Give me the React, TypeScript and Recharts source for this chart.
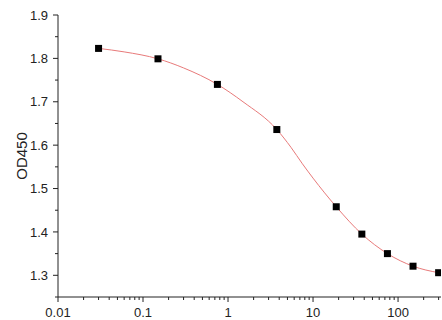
import React from 'react';
import { ComposedChart, Line, Scatter, XAxis, YAxis } from 'recharts';

// measured points
const concentrations = [0.03, 0.15, 0.75, 3.75, 18.75, 37.5, 75, 150, 300];
const od450 = [1.823, 1.799, 1.740, 1.636, 1.458, 1.395, 1.350, 1.321, 1.306];
// fitted curve
const fitX = [0.03, 0.06, 0.15, 0.3, 0.75, 1.5, 3.75, 5.5, 7.5, 10, 18.75, 37.5, 75, 150, 300];
const fitY = [1.823, 1.815, 1.799, 1.778, 1.740, 1.700, 1.636, 1.595, 1.557, 1.524, 1.458, 1.395, 1.350, 1.321, 1.306];

const xMajorTicks = [0.01, 0.1, 1, 10, 100];
const xMinorTicks = [
  0.02, 0.03, 0.04, 0.05, 0.06, 0.07, 0.08, 0.09,
  0.2, 0.3, 0.4, 0.5, 0.6, 0.7, 0.8, 0.9,
  2, 3, 4, 5, 6, 7, 8, 9,
  20, 30, 40, 50, 60, 70, 80, 90,
  200, 300,
];
const yTicks = [1.25, 1.3, 1.35, 1.4, 1.45, 1.5, 1.55, 1.6, 1.65, 1.7, 1.75, 1.8, 1.85, 1.9];

const pointData = concentrations.map((c, i) => ({ x: c, y: od450[i] }));
const fitData = fitX.map((c, i) => ({ x: c, y: fitY[i] }));
const xTicks = [...xMajorTicks, ...xMinorTicks].sort((a, b) => a - b);

const TEXT = '#222';
const FONT = 'Liberation Sans, Arial, sans-serif';

const isMajorLog = (v: number) => xMajorTicks.some((m) => Math.abs(m - v) < 1e-9);
const isMajorY = (v: number) => Math.abs(v * 10 - Math.round(v * 10)) < 1e-6;

const XTick = (props: any) => {
  const { x, y, payload } = props;
  const major = isMajorLog(payload.value);
  return (
    <g>
      <line x1={x} x2={x} y1={y} y2={y + (major ? 5 : 3)} stroke={TEXT} strokeWidth={1} />
      {major && (
        <text x={x} y={y + 20} textAnchor="middle" fontSize={13} fill={TEXT} fontFamily={FONT}>
          {String(payload.value)}
        </text>
      )}
    </g>
  );
};

const YTick = (props: any) => {
  const { x, y, payload } = props;
  const major = isMajorY(payload.value);
  const showLabel = major && payload.value > 1.26;
  return (
    <g>
      <line x1={x - (major ? 5 : 3)} x2={x} y1={y} y2={y} stroke={TEXT} strokeWidth={1} />
      {showLabel && (
        <text x={x - 10} y={y} dy="0.36em" textAnchor="end" fontSize={13} fill={TEXT} fontFamily={FONT}>
          {payload.value.toFixed(1)}
        </text>
      )}
    </g>
  );
};

const Square = (props: any) => {
  const { cx, cy } = props;
  if (cx == null || cy == null) return null;
  return <rect x={cx - 3.5} y={cy - 3.5} width={7} height={7} fill="#000" />;
};

export default function App() {
  return (
    <div style={{ position: 'absolute', left: 0, top: 0, background: '#fff' }}>
      <ComposedChart width={442} height={320} margin={{ top: 15, right: 1, bottom: 0, left: 0 }}>
        <XAxis
          dataKey="x"
          type="number"
          scale="log"
          domain={[0.01, 320]}
          allowDataOverflow
          ticks={xTicks}
          interval={0}
          tick={<XTick />}
          tickSize={0}
          tickMargin={0}
          tickLine={false}
          axisLine={{ stroke: TEXT, strokeWidth: 1 }}
          height={23}
        />
        <YAxis
          type="number"
          domain={[1.25, 1.9]}
          allowDataOverflow
          ticks={yTicks}
          interval={0}
          tick={<YTick />}
          tickSize={0}
          tickMargin={0}
          tickLine={false}
          axisLine={{ stroke: TEXT, strokeWidth: 1 }}
          width={58}
          label={{ value: 'OD450', angle: -90, position: 'center', dx: -7, fontSize: 15, fill: TEXT, fontFamily: FONT }}
        />
        <Line
          data={fitData}
          type="monotone"
          dataKey="y"
          stroke="#e87a7a"
          strokeWidth={1}
          dot={false}
          activeDot={false}
          isAnimationActive={false}
        />
        <Scatter
          data={pointData}
          dataKey="y"
          shape={<Square />}
          isAnimationActive={false}
        />
      </ComposedChart>
    </div>
  );
}
